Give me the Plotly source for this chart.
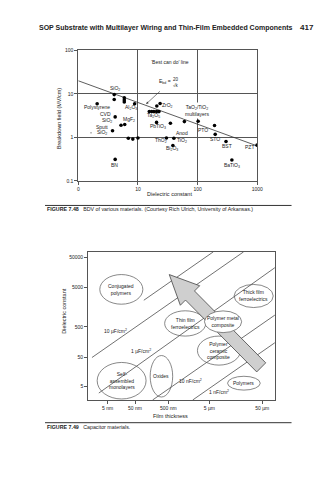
import numpy as np
import plotly.graph_objects as go

W, H = 322, 480
FONT = "Arial, Liberation Sans, sans-serif"
INK = "#222222"
AX = "#555555"

# ---------------- Figure 7.48 : breakdown field vs dielectric constant ----------------
bdv_k = [4.0, 4.0, 2.07, 5.9, 5.9, 5.9, 8.8, 4.15, 5.2, 6.0, 3.75, 6.9, 8.2, 10.0, 4.15,
         20.7, 23.5, 15.5, 17.0, 18.5, 20.5, 22.5, 20.5, 35, 60, 102, 192, 197, 299, 990,
         30, 40, 38.5, 375]
bdv_field = [9.6, 7.4, 5.9, 8.1, 7.2, 6.5, 5.9, 2.95, 1.9, 1.97, 1.42, 0.95, 0.91, 0.96, 0.31,
             5.25, 6.0, 3.9, 3.9, 3.9, 3.9, 3.9, 2.2, 2.1, 2.3, 2.35, 1.87, 1.17, 0.80, 0.66,
             0.96, 0.95, 0.65, 0.30]
best_k = [1, 1000]
best_field = [20, 0.632]
k_ticks = [1, 10, 100, 1000]
k_ticktext = ["0", "10", "100", "1000"]
e_ticks = [0.1, 1, 10, 100]
e_ticktext = ["0.1", "1", "10", "100"]

# material labels: (text, k, field)
bdv_labels = [
    ("SiO<sub>2</sub>", 4.15, 13.2), ("Polystyrene", 2.07, 4.89),
    ("Al<sub>2</sub>O<sub>3</sub>", 7.76, 4.81), ("CVD", 2.84, 3.39),
    ("SiO<sub>2</sub>", 3.02, 2.47), ("MgF<sub>2</sub>", 7.05, 2.52),
    ("Sputt", 2.45, 1.69), ("SiO<sub>2</sub>", 2.50, 1.30),
    ("ZrO<sub>2</sub>", 31.8, 5.53), ("Ta<sub>2</sub>O<sub>5</sub>", 18.3, 3.16),
    ("PbTiO<sub>3</sub>", 21.3, 1.78), ("PTO", 124, 1.50), ("Anod", 54.7, 1.23),
    ("TiO<sub>2</sub>", 54.7, 0.841), ("ThO<sub>2</sub>", 24.7, 0.841),
    ("Bi<sub>2</sub>O<sub>3</sub>", 37.5, 0.553), ("STO", 192, 0.914),
    ("BST", 310, 0.647), ("PZT", 740, 0.593), ("BN", 4.08, 0.228),
    ("BaTiO<sub>3</sub>", 375, 0.219),
]

# ---------------- Figure 7.49 : capacitor materials (schematic) ----------------
thick_pos = [20, 48, 82, 124, 178]
thick_text = ["5 nm", "50 nm", "500 nm", "5 \u00b5m", "50 \u00b5m"]
k_pos = [14, 43, 74, 114, 144.3]
k_text = ["5", "50", "500", "5000", "50000"]

# constant capacitance-density lines (diagram units)
cap_lines = {
    "100uF": ([57, 128], [101, 150]),
    "10uF": ([4, 159], [43, 150]),
    "1uF": ([11, 191], [7, 134]),
    "10nF": ([66, 191], [0, 86]),
    "1nF": ([107, 191], [0, 58]),
}
cap_labels = [("10 \u00b5F/cm<sup>2</sup>", 27.7, 70.3), ("1 \u00b5F/cm<sup>2</sup>", 54.3, 49.7),
              ("10 nF/cm<sup>2</sup>", 104.3, 19.3), ("1 nF/cm<sup>2</sup>", 134.3, 7.7)]

# material families: (text, cx, cy, rx, ry)
families = [
    ("Conjugated<br>polymers", 34, 112, 22, 15),
    ("Thin film<br>ferroelectrics", 99.3, 77.5, 21, 12.8),
    ("Thick film<br>ferroelectrics", 169.3, 105.3, 20, 11.7),
    ("Polymer<br>ceramic<br>composite", 133.8, 50, 22, 14.7),
    ("Self-<br>assembled<br>monolayers", 34.3, 19.5, 25, 18.5),
    ("Oxides", 75, 24, 11.5, 21),
    ("Polymers", 159.3, 17, 16.7, 7),
    ("Polymer metal<br>composite", 138, 79.2, 19, 11),
]
arrow_tip = (83, 127)
arrow_tail = (177, 33)

fig = go.Figure()

fig.add_trace(go.Scatter(x=best_k, y=best_field, mode="lines", xaxis="x", yaxis="y",
                         line=dict(color="#333", width=0.8), hoverinfo="skip"))
fig.add_trace(go.Scatter(x=bdv_k, y=bdv_field, mode="markers", xaxis="x", yaxis="y",
                         marker=dict(color="black", size=3.6), hoverinfo="skip"))

for name, (xs, ys) in cap_lines.items():
    fig.add_trace(go.Scatter(x=xs, y=ys, mode="lines", xaxis="x2", yaxis="y2",
                             line=dict(color="#333", width=0.7), hoverinfo="skip"))

shapes = []
for text, cx, cy, rx, ry in families[:-1]:
    shapes.append(dict(type="circle", xref="x2", yref="y2", x0=cx - rx, x1=cx + rx,
                       y0=cy - ry, y1=cy + ry, line=dict(color="#555", width=0.7), layer="above"))
# arrow polygon
tx, ty = arrow_tip
bx, by = arrow_tail
L = np.hypot(tx - bx, ty - by)
ux, uy = (tx - bx) / L, (ty - by) / L
nx, ny = -uy, ux
head_len, head_hw, shaft_hw = 30, 14, 6.5
hx, hy = tx - head_len * ux, ty - head_len * uy
pts = [(tx, ty), (hx + head_hw * nx, hy + head_hw * ny), (hx + shaft_hw * nx, hy + shaft_hw * ny),
       (bx + shaft_hw * nx, by + shaft_hw * ny), (bx - shaft_hw * nx, by - shaft_hw * ny),
       (hx - shaft_hw * nx, hy - shaft_hw * ny), (hx - head_hw * nx, hy - head_hw * ny)]
path = "M " + " L ".join(f"{px:.2f},{py:.2f}" for px, py in pts) + " Z"
shapes.append(dict(type="path", xref="x2", yref="y2", path=path, fillcolor="#cfcfcf",
                   line=dict(color="#444", width=0.8), layer="above"))
text, cx, cy, rx, ry = families[-1]
shapes.append(dict(type="circle", xref="x2", yref="y2", x0=cx - rx, x1=cx + rx,
                   y0=cy - ry, y1=cy + ry, fillcolor="white",
                   line=dict(color="#555", width=0.7), layer="above"))

# E_bd fraction bar
shapes.append(dict(type="line", xref="x", yref="y", x0=np.log10(38.9), x1=np.log10(48.3),
                   y0=np.log10(18.45), y1=np.log10(18.45), line=dict(color=INK, width=0.6)))
# caption rules
for yy in (205, 425):
    shapes.append(dict(type="line", xref="paper", yref="paper", x0=45 / W, x1=297 / W,
                       y0=1 - yy / H, y1=1 - yy / H, line=dict(color="#333", width=1)))

ann = []
def lab(text, x, y, xref="x", yref="y", size=5, **kw):
    d = dict(text=text, x=x, y=y, xref=xref, yref=yref, showarrow=False,
             font=dict(family=FONT, size=size, color=INK), xanchor="center", yanchor="middle")
    d.update(kw)
    ann.append(d)

for text, k, e in bdv_labels:
    lab(text, np.log10(k), np.log10(e))
lab("TaO<sub>2</sub>/TiO<sub>2</sub><br>multilayers", np.log10(98.9), np.log10(4.2), bgcolor="white")
lab("\u2018Best can do\u2019 line", np.log10(34.8), np.log10(53.3))
lab("E<sub>bd</sub> =", np.log10(28.8), np.log10(19.7))
lab("20", np.log10(42.8), np.log10(21.9), size=4.5)
lab("\u221ak", np.log10(42.8), np.log10(15.6), size=4.5)
ann.append(dict(x=np.log10(13.7), y=np.log10(5.83), ax=np.log10(24.7), ay=np.log10(12.3),
                xref="x", yref="y", axref="x", ayref="y", text="", showarrow=True,
                arrowhead=2, arrowsize=0.8, arrowwidth=0.6, arrowcolor="#333"))
lab("Breakdown field (MV/cm)", 59 / W, 1 - 117 / H, "paper", "paper", size=5.5, textangle=-90)
lab("Dielectric constant", 172 / W, 1 - 193 / H, "paper", "paper", size=5.5)

for text, cx, cy, rx, ry in families:
    lab(text, cx, cy, "x2", "y2", size=5)
for text, x, y in cap_labels:
    lab(text, x, y, "x2", "y2", size=5)
lab("Dielectric constant", 65 / W, 1 - 312 / H, "paper", "paper", size=5.5, textangle=-90)
lab("Film thickness", 173 / W, 1 - 418 / H, "paper", "paper", size=5.5)

lab("<b>SOP Substrate with Multilayer Wiring and Thin-Film Embedded Components</b>",
    168 / W, 1 - 25 / H, "paper", "paper", size=7)
lab("<b>417</b>", 313 / W, 1 - 25 / H, "paper", "paper", size=8)
lab("<b>FIGURE 7.48</b>   BDV of various materials. (Courtesy Rich Ulrich, University of Arkansas.)",
    45 / W, 1 - 209 / H, "paper", "paper", size=5.3, xanchor="left")
lab("<b>FIGURE 7.49</b>   Capacitor materials.", 45 / W, 1 - 429 / H, "paper", "paper",
    size=5.3, xanchor="left")

axis_common = dict(showline=True, mirror=True, linecolor=AX, linewidth=0.8, ticks="outside",
                   ticklen=3, tickcolor=AX, tickwidth=0.8, zeroline=False,
                   tickfont=dict(family=FONT, size=5, color=INK))

fig.update_layout(
    width=W, height=H, margin=dict(l=0, r=0, t=0, b=0),
    paper_bgcolor="white", plot_bgcolor="white", showlegend=False,
    xaxis=dict(type="log", range=[0, 3], domain=[79 / W, 262 / W], anchor="y",
               tickvals=k_ticks, ticktext=k_ticktext, showgrid=True, gridcolor=AX, gridwidth=0.8,
               **axis_common),
    yaxis=dict(type="log", range=[-1, 2], domain=[1 - 180 / H, 1 - 48 / H], anchor="x",
               tickvals=e_ticks, ticktext=e_ticktext, showgrid=True, gridcolor=AX, gridwidth=0.8,
               **axis_common),
    xaxis2=dict(range=[0, 191], domain=[89 / W, 280 / W], anchor="y2",
                tickvals=thick_pos, ticktext=thick_text, showgrid=False, **axis_common),
    yaxis2=dict(range=[0, 150], domain=[1 - 402 / H, 1 - 252 / H], anchor="x2",
                tickvals=k_pos, ticktext=k_text, showgrid=False, **axis_common),
    shapes=shapes, annotations=ann,
)

fig.write_html("out.html")
